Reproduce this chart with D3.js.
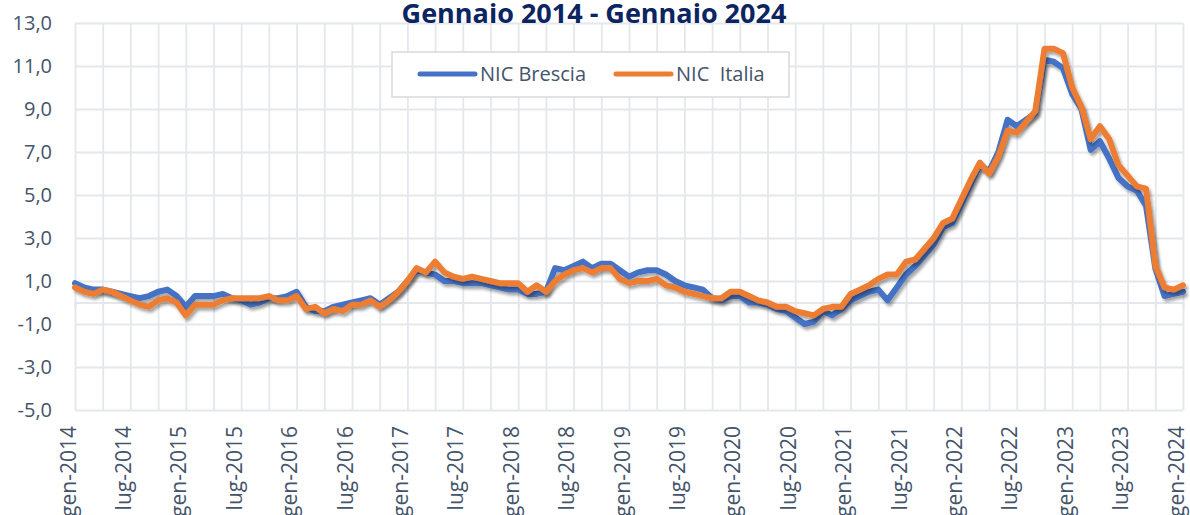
<!DOCTYPE html>
<html>
<head>
<meta charset="utf-8">
<script src="https://cdn.jsdelivr.net/npm/d3@7"></script>
<style>
  body { margin: 0; background: #fff; }
  svg { display: block; font-family: 'Open Sans', sans-serif; }
</style>
</head>
<body>
<svg width="1190" height="515"></svg>
<script>
var anni = [2014, 2015, 2016, 2017, 2018, 2019, 2020, 2021, 2022, 2023, 2024];
var nomiMesi = ['gen', 'feb', 'mar', 'apr', 'mag', 'giu', 'lug', 'ago', 'set', 'ott', 'nov', 'dic'];

// NIC Brescia, var. % tendenziali gen-2014 .. gen-2024
var brescia = [
  0.9, 0.7, 0.6, 0.6, 0.5, 0.4, 0.3, 0.2, 0.3, 0.5, 0.6, 0.3,
  -0.2, 0.3, 0.3, 0.3, 0.4, 0.2, 0.1, -0.1, 0.0, 0.2, 0.2, 0.3,
  0.5, -0.2, -0.4, -0.4, -0.2, -0.1, 0.0, 0.1, 0.2, -0.1, 0.2, 0.5,
  1.0, 1.5, 1.4, 1.3, 1.0, 1.0, 0.9, 0.9, 0.9, 0.8, 0.7, 0.6,
  0.6, 0.4, 0.4, 0.5, 1.6, 1.5, 1.7, 1.9, 1.6, 1.8, 1.8, 1.5,
  1.2, 1.4, 1.5, 1.5, 1.3, 1.0, 0.8, 0.7, 0.6, 0.2, 0.1, 0.3,
  0.3, 0.0, 0.0, -0.1, -0.3, -0.4, -0.7, -1.0, -0.9, -0.4, -0.6, -0.3,
  0.1, 0.3, 0.5, 0.6, 0.1, 0.7, 1.3, 1.7, 2.2, 2.7, 3.5, 3.7,
  4.6, 5.5, 6.4, 6.1, 7.0, 8.5, 8.2, 8.5, 8.8, 11.3, 11.2, 10.9,
  9.7, 9.0, 7.1, 7.5, 6.7, 5.8, 5.4, 5.2, 4.5, 1.6, 0.3, 0.4,
  0.5
];

// NIC Italia
var italia = [
  0.7, 0.5, 0.4, 0.6, 0.5, 0.3, 0.1, -0.1, -0.2, 0.1, 0.2, 0.0,
  -0.6, -0.1, -0.1, -0.1, 0.1, 0.2, 0.2, 0.2, 0.2, 0.3, 0.1, 0.1,
  0.3, -0.3, -0.2, -0.5, -0.3, -0.4, -0.1, -0.1, 0.1, -0.2, 0.1, 0.5,
  1.0, 1.6, 1.4, 1.9, 1.4, 1.2, 1.1, 1.2, 1.1, 1.0, 0.9, 0.9,
  0.9, 0.5, 0.8, 0.5, 1.0, 1.3, 1.5, 1.6, 1.4, 1.6, 1.6, 1.1,
  0.9, 1.0, 1.0, 1.1, 0.8, 0.7, 0.5, 0.4, 0.3, 0.2, 0.2, 0.5,
  0.5, 0.3, 0.1, 0.0, -0.2, -0.2, -0.4, -0.5, -0.6, -0.3, -0.2, -0.2,
  0.4, 0.6, 0.8, 1.1, 1.3, 1.3, 1.9, 2.0, 2.5, 3.0, 3.7, 3.9,
  4.8, 5.7, 6.5, 6.0, 6.8, 8.0, 7.9, 8.4, 8.9, 11.8, 11.8, 11.6,
  10.0, 9.1, 7.6, 8.2, 7.6, 6.4, 5.9, 5.4, 5.3, 1.7, 0.7, 0.6,
  0.8
];

var yTicks = [-5, -3, -1, 1, 3, 5, 7, 9, 11, 13];
var serieNomi = ['NIC Brescia', 'NIC  Italia'];
var colori = ['#4472C4', '#ED7D31'];
var titolo = 'Gennaio 2014 - Gennaio 2024';

// etichette mese-anno
var mesi = [];
anni.forEach(function(a) {
  nomiMesi.forEach(function(m) {
    if (mesi.length < brescia.length) mesi.push(m + '-' + a);
  });
});

var itFormat = d3.formatLocale({decimal: ',', thousands: '.', grouping: [3], currency: ['€', ''], minus: '-'}).format('.1f');

var svg = d3.select('svg');
var textColor = '#44546A';
var gridColor = '#E4E7EC';

var xScale = d3.scalePoint()
               .domain(mesi)
               .range([75, 1183]);

var yScale = d3.scaleLinear()
               .domain([-5, 13])
               .range([410, 23]);

var defs = svg.append('defs');
var filter = defs.append('filter')
  .attr('id', 'ombra')
  .attr('x', '-5%').attr('y', '-20%')
  .attr('width', '110%').attr('height', '140%');
filter.append('feDropShadow')
  .attr('dx', 2)
  .attr('dy', 3)
  .attr('stdDeviation', 1.8)
  .attr('flood-color', '#000')
  .attr('flood-opacity', 0.35);

// griglia verticale (ogni 3 mesi)
var gridX = d3.axisBottom(xScale)
              .tickValues(mesi.filter(function(d, i) { return i % 3 === 0; }))
              .tickSize(-(yScale(-5) - yScale(13)))
              .tickFormat('');
svg.append('g')
   .attr('class', 'grid')
   .attr('transform', 'translate(0,' + yScale(-5) + ')')
   .call(gridX);

// griglia orizzontale con etichette
var yAxis = d3.axisLeft(yScale)
              .tickValues(yTicks)
              .tickSize(-(1183 - 75))
              .tickPadding(23)
              .tickFormat(itFormat);
svg.append('g')
   .attr('id', 'yAxis')
   .attr('transform', 'translate(75,0)')
   .call(yAxis);

// asse dello zero con tacche
var zeroAxis = d3.axisBottom(xScale)
                 .tickValues(mesi.filter(function(d, i) { return i % 3 === 0; }))
                 .tickSize(6)
                 .tickFormat('');
svg.append('g')
   .attr('id', 'zeroAxis')
   .attr('transform', 'translate(0,' + yScale(0) + ')')
   .call(zeroAxis);

// etichette asse x
var xAxis = d3.axisBottom(xScale)
              .tickValues(mesi.filter(function(d, i) { return i % 6 === 0; }))
              .tickSize(0)
              .tickPadding(0);
svg.append('g')
   .attr('id', 'xAxis')
   .attr('transform', 'translate(0,' + yScale(-5) + ')')
   .call(xAxis);

svg.selectAll('.grid line, #yAxis line, #zeroAxis line')
   .style('stroke', gridColor)
   .style('stroke-width', 1.8);
svg.selectAll('.domain').style('stroke', gridColor).style('stroke-width', 1.8);
svg.selectAll('#xAxis .domain, #yAxis .domain, .grid .domain').remove();

svg.selectAll('#yAxis text')
   .style('font-family', "'Open Sans', sans-serif")
   .style('font-size', '20px')
   .style('fill', textColor);

svg.selectAll('#xAxis text')
   .attr('transform', 'rotate(-90)')
   .attr('x', -16)
   .attr('y', 0)
   .attr('dy', '0')
   .style('text-anchor', 'end')
   .style('font-family', "'Open Sans', sans-serif")
   .style('font-size', '21px')
   .style('fill', textColor);

// linee
var linea = d3.line()
              .x(function(d, i) { return xScale(mesi[i]); })
              .y(function(d) { return yScale(d); });

svg.selectAll('path.serie')
   .data([brescia, italia])
   .enter()
   .append('path')
   .attr('class', 'serie')
   .attr('d', linea)
   .attr('filter', 'url(#ombra)')
   .style('fill', 'none')
   .style('stroke', function(d, i) { return colori[i]; })
   .style('stroke-width', 6)
   .style('stroke-linejoin', 'round')
   .style('stroke-linecap', 'round');

// legenda
var legenda = svg.append('g').attr('id', 'legenda');
legenda.append('rect')
       .attr('x', 392)
       .attr('y', 52)
       .attr('width', 397)
       .attr('height', 45)
       .style('fill', '#fff')
       .style('stroke', '#D9D9D9')
       .style('stroke-width', 1.5);

var voci = legenda.selectAll('g.voce')
  .data(serieNomi)
  .enter()
  .append('g')
  .attr('class', 'voce')
  .attr('transform', function(d, i) {
    return 'translate(' + (i === 0 ? 420 : 616) + ',74)';
  });
voci.append('line')
    .attr('x1', 0)
    .attr('x2', 55)
    .style('stroke', function(d, i) { return colori[i]; })
    .style('stroke-width', 5)
    .style('stroke-linecap', 'round');
voci.append('text')
    .attr('x', 60)
    .attr('dy', '0.35em')
    .style('font-size', '20px')
    .style('fill', textColor)
    .style('white-space', 'pre')
    .attr('xml:space', 'preserve')
    .text(function(d) { return d; });

// titolo
svg.append('text')
   .attr('x', 594)
   .attr('y', 23)
   .attr('text-anchor', 'middle')
   .style('font-size', '27px')
   .style('font-weight', 'bold')
   .style('fill', '#0C2461')
   .text(titolo);
</script>
</body>
</html>
